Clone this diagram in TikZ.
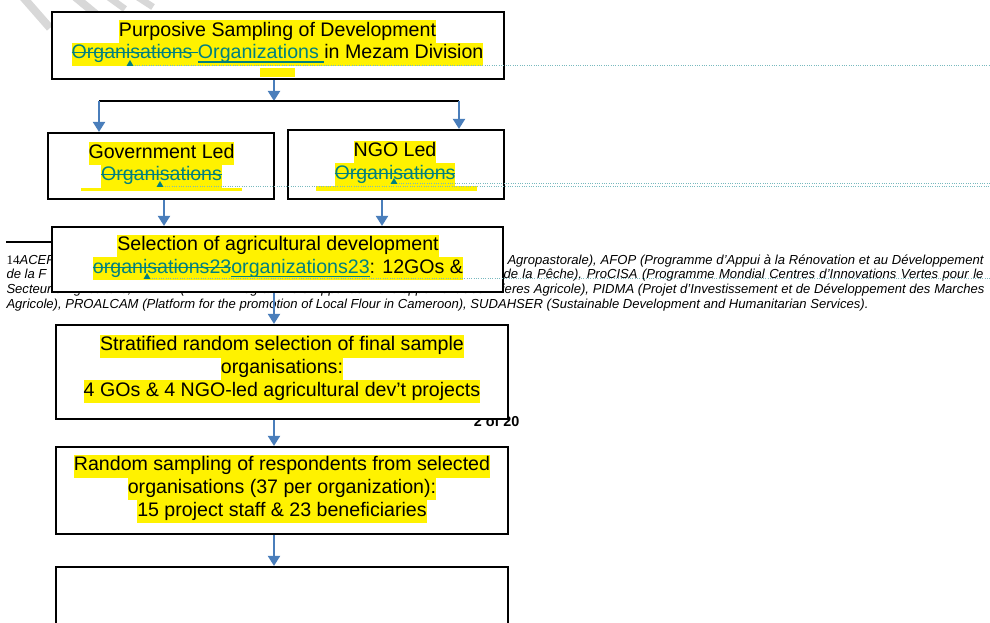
\documentclass[tikz,border=0pt]{standalone}
\usepackage{fontspec}
\setmainfont{Liberation Sans}
\newfontfamily\fnserif{Liberation Serif}
\usetikzlibrary{arrows.meta}

\definecolor{trackteal}{RGB}{0,128,128}
\definecolor{flowblue}{RGB}{74,126,187}
\definecolor{dotteal}{RGB}{120,185,190}
\definecolor{markgrey}{RGB}{216,216,216}

\newcommand{\hl}[1]{{\fboxsep=0pt\colorbox{yellow}{\strut#1}}}
\newcommand{\del}[1]{{\color{trackteal}\setbox0\hbox{#1}\rlap{\rule[0.27em]{\wd0}{0.9pt}}\box0}}
\newcommand{\ins}[1]{{\color{trackteal}\setbox0\hbox{#1}\rlap{\rule[-0.2em]{\wd0}{0.9pt}}\box0}}

\tikzset{every picture/.style={line width=0.75pt}}
\tikzset{
  flowbox/.style={draw, line width=1.6pt, fill=white, inner sep=0pt},
  boxtxt/.style={align=center, inner sep=0pt, font=\fontsize{14.7}{16.9}\selectfont},
  fntxt/.style={anchor=base west, inner sep=0pt, font=\fontsize{9.8}{10.9}\selectfont\itshape},
  flow/.style={draw=flowblue, line width=1.5pt, -{Triangle[length=7.5pt,width=9pt]}},
  forkline/.style={draw=black, line width=1.5pt},
  trackdot/.style={draw=dotteal, line width=0.75pt, densely dotted},
  caret/.style={fill=trackteal, draw=none},
  hlstrip/.style={fill=yellow, draw=none}
}

\begin{document}
\begin{tikzpicture}[x=0.75pt,y=0.75pt,yscale=-1,xscale=1]
\useasboundingbox (0,0) rectangle (990,623);

% watermark streaks
\draw [markgrey, line width=6pt] (22,-4) -- (50,28);
\draw [markgrey, line width=6pt] (74,-4) -- (97,15);
\draw [markgrey, line width=5pt] (107,-4) -- (125,9);
\draw [markgrey, line width=5pt] (136,-4) -- (153,7);

% footnote behind the boxes
\draw [line width=1.2pt] (6,242) -- (52,242);
\node [fntxt] (fnA) at (6,264.5) {{\upshape\fnserif 14}ACEF};
\node [fntxt, anchor=base east] (fnB) at (984,264.5) {\makebox[357pt][s]{Agropastorale), AFOP (Programme d’Appui à la Rénovation et au Développement}};
\node [fntxt] (fnC) at (6,279) {de la F};
\node [fntxt, anchor=base east] (fnD) at (984,279) {\makebox[360pt][s]{de la Pêche), ProCISA (Programme Mondial Centres d’Innovations Vertes pour le}};
\node [fntxt] (fnE) at (6,293.5) {\makebox[733.5pt][s]{Secteur d’Agriculture, PADFA (PADFA Programme d’Appui au Développement des Filieres Agricole), PIDMA (Projet d’Investissement et de Développement des Marches}};
\node [fntxt] (fnF) at (6,308.5) {Agricole), PROALCAM (Platform for the promotion of Local Flour in Cameroon), SUDAHSER (Sustainable Development and Humanitarian Services).};
\node [anchor=base east, inner sep=0pt, font=\fontsize{10.8}{12}\selectfont\bfseries] (page) at (520,427) {2 of 20};

% boxes
\node [flowbox, minimum width=339pt, minimum height=50.25pt] (purp) at (278,45.5) {};
\node [flowbox, minimum width=169.5pt, minimum height=49.5pt] (govt) at (161,166) {};
\node [flowbox, minimum width=162pt, minimum height=51.75pt] (ngo) at (396,164.5) {};
\node [flowbox, minimum width=338.25pt, minimum height=48.75pt] (selc) at (277.5,259.5) {};
\node [flowbox, minimum width=339pt, minimum height=70.5pt] (strat) at (282,372) {};
\node [flowbox, minimum width=339pt, minimum height=65.25pt] (rand) at (282,490.5) {};
\node [flowbox, minimum width=339pt, minimum height=60pt] (last) at (282,607) {};

% highlighted texts
\fill [hlstrip] (260,68) rectangle (295,77);
\node [boxtxt] (purptxt) at (277.5,43) {\hl{Purposive Sampling of Development}\\
  \hl{\del{Organisations }\ins{Organizations }in Mezam Division}};
\fill [hlstrip] (81,188) rectangle (242,191);
\node [boxtxt] (govttxt) at (161.5,165) {\hl{Government Led}\\ \hl{\del{Organisations}}};
\fill [hlstrip] (316,186) rectangle (477,191);
\node [boxtxt] (ngotxt) at (395,163.5) {\hl{NGO Led}\\ \hl{\del{Organisations}}};
\node [boxtxt] (selctxt) at (278,257.5) {\hl{Selection of agricultural development}\\
  \hl{\del{organisations23}\ins{organizations23}: 12GOs \&}};
\node [boxtxt] (strattxt) at (282,369) {\hl{Stratified random selection of final sample}\\
  \hl{organisations:}\\ \hl{4 GOs \& 4 NGO-led agricultural dev’t projects}};
\node [boxtxt] (randtxt) at (282,489) {\hl{Random sampling of respondents from selected}\\
  \hl{organisations (37 per organization):}\\ \hl{15 project staff \& 23 beneficiaries}};

% connectors
\coordinate (spine) at (274,0);
\coordinate (forkL) at (99,101);
\coordinate (forkR) at (459,101);
\coordinate (forkM) at (274,101);
\draw [flow] (purp.south -| spine) -- (forkM);
\draw [forkline] (forkL) -- (forkR);
\draw [flow] (forkL) -- (govt.north -| forkL);
\draw [flow] (forkR) -- (ngo.north -| forkR);
\draw [flow] ([xshift=2.25pt]govt.south) -- ([xshift=2.25pt]govt.south |- selc.north);
\draw [flow] ([xshift=-10.5pt]ngo.south) -- ([xshift=-10.5pt]ngo.south |- selc.north);
\draw [flow] (selc.south -| spine) -- (strat.north -| spine);
\draw [flow] (strat.south -| spine) -- (rand.north -| spine);
\draw [flow] (rand.south -| spine) -- (last.north -| spine);

% track-change markers
\coordinate (edge) at (990,0);
\coordinate (carA) at (130,66);
\coordinate (carB) at (160,187);
\coordinate (carC) at (394,184);
\coordinate (carD) at (147,279);
\foreach \c in {carA,carB,carC,carD}{
  \draw [trackdot] (\c) -- (\c -| edge);
  \fill [caret] (\c) ++(-3.5,0) -- ++(7,0) -- ++(-3.5,-6) -- cycle;
}

\end{tikzpicture}
\end{document}
